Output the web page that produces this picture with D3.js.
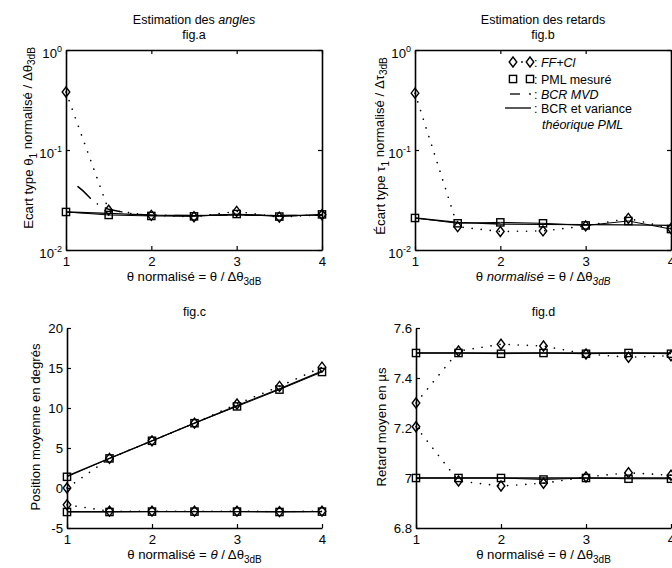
<!DOCTYPE html>
<html>
<head>
<meta charset="utf-8">
<script src="https://cdn.jsdelivr.net/npm/d3@7"></script>
<style>
  body { margin: 0; background: #fff; }
  svg { font-family: "Liberation Sans", Arial, sans-serif; }
</style>
</head>
<body>
<div id="chart"></div>
<script>
// abscisse commune : theta normalise
var thetaN = [1, 1.5, 2, 2.5, 3, 3.5, 4];
var xTicks = [1, 2, 3, 4];

// fig.a : ecart type des angles (echelle log)
var angFF  = [0.38, 0.025, 0.0222, 0.0215, 0.0243, 0.0213, 0.0225];
var angPML = [0.024, 0.0224, 0.0219, 0.0217, 0.0229, 0.0216, 0.0227];
var angBCR = [0.024, 0.0232, 0.0223, 0.0221, 0.0224, 0.0221, 0.0223];
var angMVDx = [1.14, 1.2, 1.3, 1.4, 1.5, 1.6, 1.7, 1.8, 2, 2.5, 3, 3.5, 4];
var angMVD  = [0.043, 0.039, 0.032, 0.0275, 0.0255, 0.0246, 0.0236, 0.0229, 0.0223, 0.0221, 0.0224, 0.0221, 0.0223];

// fig.b : ecart type des retards
var retFF  = [0.37, 0.0171, 0.0153, 0.0155, 0.0174, 0.0207, 0.0164];
var retPML = [0.0209, 0.0185, 0.0189, 0.0185, 0.0176, 0.0195, 0.0162];
var retBCR = [0.0209, 0.0189, 0.0182, 0.0180, 0.0179, 0.0178, 0.0176];

var logTicks = [1, 0.1, 0.01];
var logExp = ["0", "-1", "-2"];

// fig.c : position moyenne (deux sources)
var posFF1  = [0.0, 3.7, 5.9, 8.1, 10.5, 12.7, 15.1];
var posPML1 = [1.4, 3.7, 5.9, 8.1, 10.2, 12.3, 14.5];
var posBCR1 = [1.5, 3.7, 5.9, 8.1, 10.3, 12.4, 14.6];
var posFF2  = [-2.1, -2.9, -2.9, -2.9, -2.9, -2.95, -2.9];
var posPML2 = [-3.0, -3.0, -2.95, -2.95, -2.95, -3.0, -2.95];
var posBCR2 = [-2.95, -2.95, -2.95, -2.95, -2.95, -2.95, -2.95];
var posTicks = [-5, 0, 5, 10, 15, 20];

// fig.d : retard moyen (deux sources)
var delFF1  = [7.3, 7.508, 7.535, 7.528, 7.496, 7.483, 7.489];
var delPML1 = [7.5, 7.5, 7.497, 7.5, 7.497, 7.5, 7.497];
var delBCR1 = [7.5, 7.5, 7.5, 7.5, 7.5, 7.5, 7.5];
var delFF2  = [7.205, 6.988, 6.968, 6.979, 7.004, 7.021, 7.011];
var delPML2 = [7.0, 7.0, 7.0, 6.994, 7.0, 6.997, 6.997];
var delBCR2 = [7.0, 7.0, 7.0, 7.0, 7.0, 7.0, 7.0];
var delTicks = [6.8, 7.0, 7.2, 7.4, 7.6];

var W = 672, H = 568, FS = 13.2, FT = 12.5;

var svg = d3.select("#chart").append("svg")
  .attr("width", W).attr("height", H);

function zip(xs, ys) { return xs.map(function(x, i) { return [x, ys[i]]; }); }

// texte avec indices / italiques
function richText(g, segs) {
  segs.forEach(function(s) {
    var t = g.append("tspan").text(s.t);
    if (s.it) t.style("font-style", "italic");
    if (s.sub) t.attr("dy", "0.35em").style("font-size", "10px");
    if (s.back) t.attr("dy", "-0.35em");
  });
  return g;
}

function diamond(g, x, y) {
  g.append("path").attr("d", "M" + x + "," + (y - 5) + "L" + (x + 3.8) + "," + y + "L" + x + "," + (y + 5) + "L" + (x - 3.8) + "," + y + "Z")
    .attr("fill", "none").attr("stroke", "#000").attr("stroke-width", 1.4);
}
function square(g, x, y) {
  g.append("rect").attr("x", x - 3.6).attr("y", y - 3.6).attr("width", 7.2).attr("height", 7.2)
    .attr("fill", "none").attr("stroke", "#000").attr("stroke-width", 1.4);
}

function panel(o) {
  var x = d3.scaleLinear().domain([1, 4]).range([o.x0, o.x1]);
  var y = (o.log ? d3.scaleLog() : d3.scaleLinear()).domain(o.dom).range([o.y1, o.y0]);
  var g = svg.append("g");

  // axes
  var ax = g.append("g").attr("transform", "translate(0," + o.y1 + ")")
    .call(d3.axisBottom(x).tickValues(xTicks).tickSize(-4).tickSizeOuter(0).tickPadding(7).tickFormat(d3.format("d")));
  var ay = g.append("g").attr("transform", "translate(" + o.x0 + ",0)")
    .call(d3.axisLeft(y).tickValues(o.ticks).tickSize(-4).tickSizeOuter(0).tickPadding(4));
  [ax, ay].forEach(function(a) {
    a.selectAll("text").style("font-size", FS + "px").attr("fill", "#000");
    a.selectAll("line").attr("stroke", "#000").attr("stroke-width", 1.2);
    a.select(".domain").attr("stroke", "#000").attr("stroke-width", 1.6);
    a.attr("font-family", null);
  });
  if (o.log) {
    ay.selectAll(".tick text").text("10").each(function(d, i) {
      d3.select(this).attr("dy", "0.6em").append("tspan").attr("dy", "-0.75em")
        .style("font-size", "9px").text(logExp[i]);
    });
  } else {
    ay.selectAll(".tick text").text(o.fmt);
  }
  if (o.box) {
    g.append("g").attr("transform", "translate(0," + o.y0 + ")")
      .call(d3.axisTop(x).tickValues(xTicks).tickSize(-4).tickSizeOuter(0).tickFormat(""))
      .call(function(a) { a.selectAll("line").attr("stroke", "#000").attr("stroke-width", 1.2);
        a.select(".domain").attr("stroke", "#000").attr("stroke-width", 1.6); });
    g.append("g").attr("transform", "translate(" + o.x1 + ",0)")
      .call(d3.axisRight(y).tickValues(o.ticks).tickSize(-4).tickSizeOuter(0).tickFormat(""))
      .call(function(a) { a.selectAll("line").attr("stroke", "#000").attr("stroke-width", 1.2);
        a.select(".domain").attr("stroke", "#000").attr("stroke-width", 1.6); });
  }

  var line = d3.line().x(function(d) { return x(d[0]); }).y(function(d) { return y(d[1]); });

  // courbes
  o.series.forEach(function(s) {
    var p = g.append("path").attr("d", line(zip(s.xs || thetaN, s.ys)))
      .attr("fill", "none").attr("stroke", "#000");
    if (s.kind === "solid") p.attr("stroke-width", 1.3);
    if (s.kind === "dot") p.attr("stroke-width", 1.6).attr("stroke-dasharray", "0.1,9").attr("stroke-linecap", "round");
    if (s.kind === "dashdot") p.attr("stroke-width", 1.5).attr("stroke-dasharray", "17,9,0.1,9").attr("stroke-linecap", "round");
  });
  o.series.forEach(function(s) {
    if (!s.mark) return;
    (s.xs || thetaN).forEach(function(xv, i) {
      if (s.mark === "d") diamond(g, x(xv), y(s.ys[i]));
      else square(g, x(xv), y(s.ys[i]));
    });
  });

  // titres et labels
  var cx = (o.x0 + o.x1) / 2;
  o.title.forEach(function(t, i) {
    richText(g.append("text").attr("x", cx).attr("y", o.titleY + i * 15)
      .attr("text-anchor", "middle").style("font-size", FT + "px"), t);
  });
  richText(g.append("text").attr("x", cx).attr("y", o.y1 + 31)
    .attr("text-anchor", "middle").style("font-size", FS + "px"), o.xlab);
  richText(g.append("text").attr("transform", "translate(" + o.ylabX + "," + o.ylabY + ") rotate(-90)")
    .attr("text-anchor", "middle").style("font-size", FS + "px"), o.ylab);
  return { x: x, y: y, g: g };
}

var xlabA = [{ t: "\u03b8 normalis\u00e9 = \u03b8 / \u0394\u03b8" }, { t: "3dB", sub: true }];

panel({
  x0: 66, x1: 322, y0: 50, y1: 250, log: true, dom: [0.01, 1], ticks: logTicks, box: true,
  titleY: 24, title: [[{ t: "Estimation des " }, { t: "angles", it: true }], [{ t: "fig.a" }]],
  xlab: xlabA, ylabX: 33, ylabY: 138,
  ylab: [{ t: "Ecart type \u03b8" }, { t: "1", sub: true }, { t: " normalis\u00e9 / \u0394\u03b8", back: true }, { t: "3dB", sub: true }],
  series: [
    { ys: angFF, kind: "dot", mark: "d" },
    { xs: angMVDx, ys: angMVD, kind: "dashdot" },
    { ys: angBCR, kind: "solid" },
    { ys: angPML, mark: "s" }
  ]
});

var pb = panel({
  x0: 415, x1: 671, y0: 50, y1: 250, log: true, dom: [0.01, 1], ticks: logTicks, box: true,
  titleY: 24, title: [[{ t: "Estimation des retards" }], [{ t: "fig.b" }]],
  xlab: [{ t: "\u03b8 " }, { t: "normalis\u00e9", it: true }, { t: " = \u03b8 / \u0394\u03b8" }, { t: "3dB", sub: true, it: true }],
  ylabX: 385, ylabY: 146,
  ylab: [{ t: "\u00c9cart type \u03c4" }, { t: "1", sub: true }, { t: " normalis\u00e9 / \u0394\u03c4", back: true }, { t: "3dB", sub: true }],
  series: [
    { ys: retFF, kind: "dot", mark: "d" },
    { ys: retBCR, kind: "solid" },
    { ys: retPML, mark: "s" }
  ]
});

panel({
  x0: 67, x1: 322, y0: 328, y1: 528, log: false, dom: [-5, 20], ticks: posTicks, box: false,
  fmt: function(d) { return d; },
  titleY: 316, title: [[{ t: "fig.c" }]],
  xlab: [{ t: "\u03b8 normalis\u00e9 = " }, { t: "\u03b8", it: true }, { t: " / \u0394\u03b8" }, { t: "3dB", sub: true }],
  ylabX: 40, ylabY: 427,
  ylab: [{ t: "Position moyenne en degr\u00e9s" }],
  series: [
    { ys: posFF1, kind: "dot", mark: "d" },
    { ys: posFF2, kind: "dot", mark: "d" },
    { ys: posBCR1, kind: "solid" },
    { ys: posBCR2, kind: "solid" },
    { ys: posPML1, mark: "s" },
    { ys: posPML2, mark: "s" }
  ]
});

panel({
  x0: 416, x1: 671, y0: 328, y1: 528, log: false, dom: [6.8, 7.6], ticks: delTicks, box: false,
  fmt: function(d) { return d === 7 ? "7" : d3.format(".1f")(d); },
  titleY: 316, title: [[{ t: "fig.d" }]],
  xlab: xlabA, ylabX: 386, ylabY: 427,
  ylab: [{ t: "Retard moyen en \u00b5s" }],
  series: [
    { ys: delFF1, kind: "dot", mark: "d" },
    { ys: delFF2, kind: "dot", mark: "d" },
    { ys: delBCR1, kind: "solid" },
    { ys: delBCR2, kind: "solid" },
    { ys: delPML1, mark: "s" },
    { ys: delPML2, mark: "s" }
  ]
});

// legende (fig.b)
var leg = pb.g.append("g").attr("transform", "translate(505,0)");
var rows = [
  { y: 62, t: [{ t: ": " }, { t: "FF+Cl", it: true }] },
  { y: 79, t: [{ t: ": PML mesur\u00e9" }] },
  { y: 94, t: [{ t: ": " }, { t: "BCR MVD", it: true }] },
  { y: 108, t: [{ t: ": BCR et variance" }] }
];
diamond(leg, 8, rows[0].y);
leg.append("circle").attr("cx", 17).attr("cy", rows[0].y).attr("r", 0.9);
diamond(leg, 25, rows[0].y);
square(leg, 8, rows[1].y);
square(leg, 25, rows[1].y);
leg.append("line").attr("x1", 5).attr("x2", 15).attr("y1", rows[2].y).attr("y2", rows[2].y)
  .attr("stroke", "#000").attr("stroke-width", 1.3);
leg.append("circle").attr("cx", 25).attr("cy", rows[2].y).attr("r", 0.9);
leg.append("line").attr("x1", 0).attr("x2", 26).attr("y1", rows[3].y).attr("y2", rows[3].y)
  .attr("stroke", "#000").attr("stroke-width", 1.3);
rows.forEach(function(r) {
  richText(leg.append("text").attr("x", 29).attr("y", r.y + 4.5).style("font-size", FT + "px"), r.t);
});
richText(leg.append("text").attr("x", 37).attr("y", 129).style("font-size", FT + "px"),
  [{ t: "th\u00e9orique PML", it: true }]);
</script>
</body>
</html>
